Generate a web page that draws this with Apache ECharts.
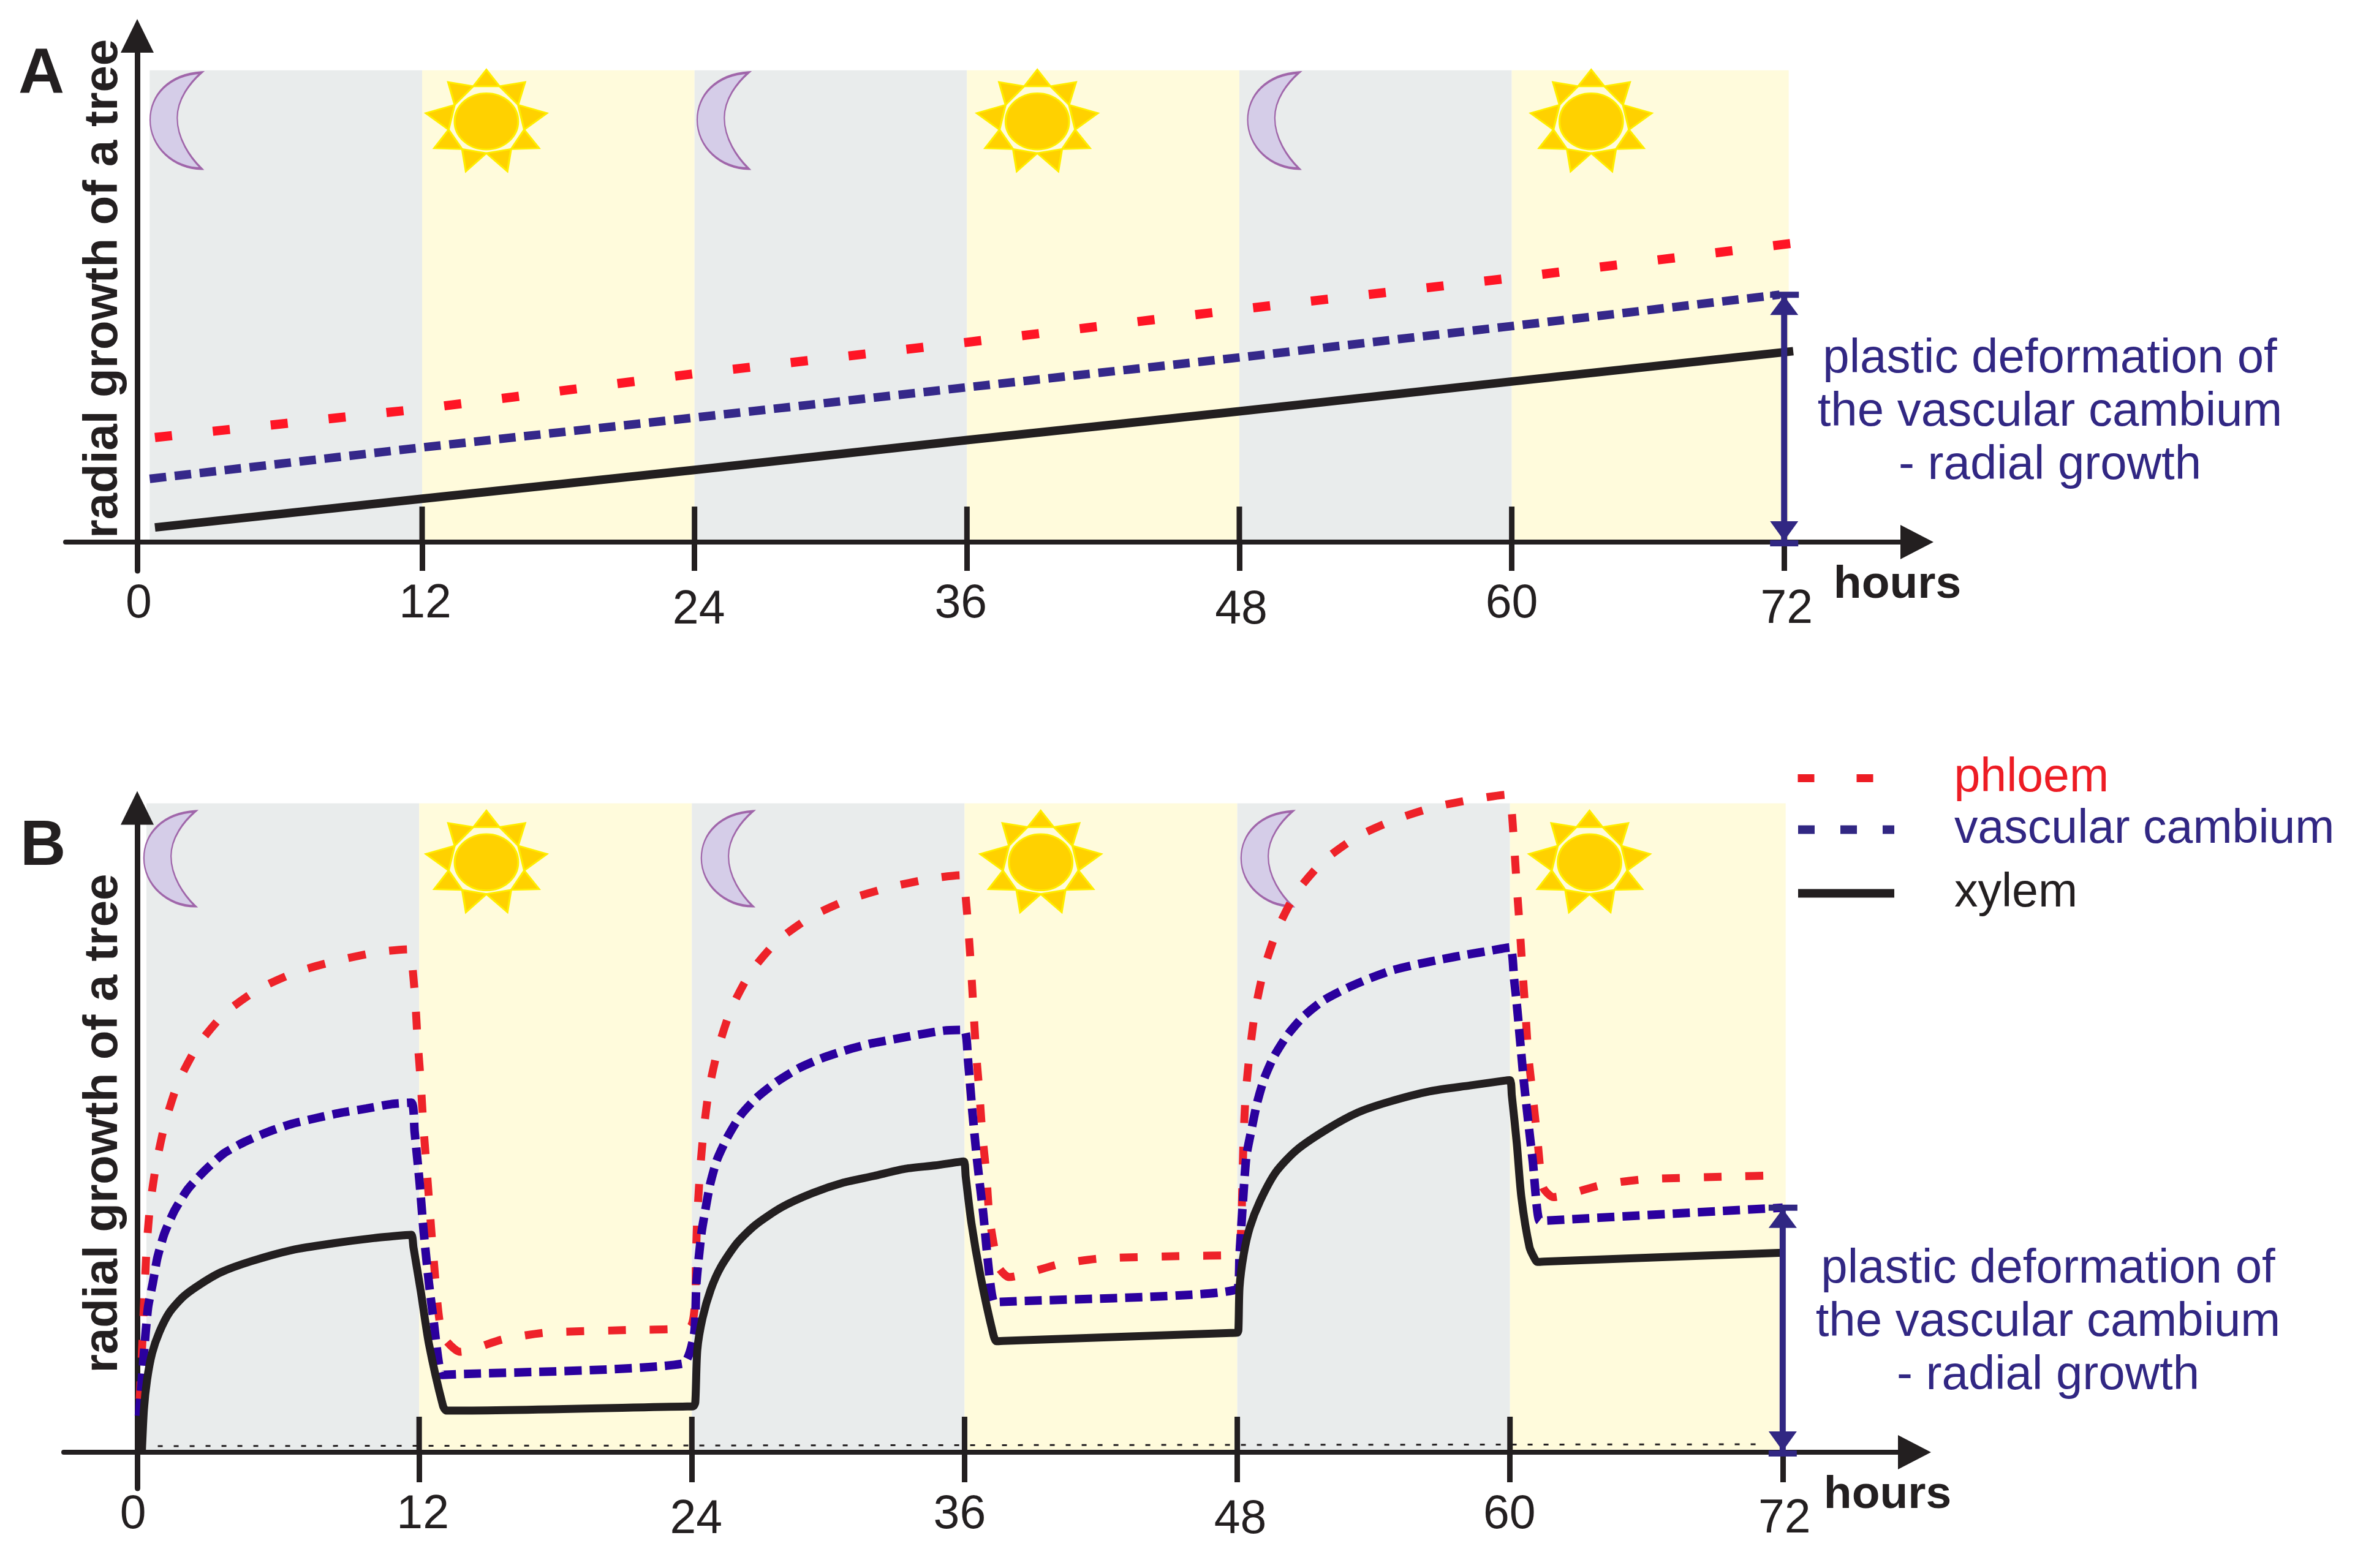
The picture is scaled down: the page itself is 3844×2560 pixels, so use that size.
<!DOCTYPE html>
<html><head><meta charset="utf-8">
<style>html,body{margin:0;padding:0;background:#fff}#c{width:3844px;height:2560px}</style>
<script src="https://cdn.jsdelivr.net/npm/echarts@6/dist/echarts.min.js"></script>
</head><body><div id="c"></div>
<script>
// ---------- data ----------
const tickLabels = ['0','12','24','36','48','60','72'];
const tickHoursA = [-0.54,12,24,36,48,60,72];
const tickHoursB = [-0.40,12,24,36,48,60,72];
const upperTickHours = [12,24,36,48,60];
const bandEdgesA = [0,12,24,36,48,60,72.2];
const bandEdgesB = [0,12,24,36,48,60,72.13];
const moonHoursA = [1.15,25.25,49.5];
const sunHoursA = [14.83,39.1,63.5];
const moonHoursB = [1.02,25.55,49.3];
const sunHoursB = [14.96,39.35,63.5];
const phloemA = [[0.23,20],[12,25.5],[24,32.2],[36,38.2],[48,44.5],[60,50.5],[72.3,57.1]];
const cambiumA = [[0,12.1],[12,18.1],[24,23.8],[36,29.6],[48,35.3],[60,41.3],[71.8,47.3]];
const xylemA = [[0.23,2.8],[12,8.3],[24,13.8],[36,19.5],[48,25],[60,30.7],[72.4,36.5]];
const xylemB = [[-0.2,0],[-0.11,6.5],[0.03,11],[0.25,15],[0.57,18.2],[1.02,21.2],[1.64,23.6],[2.36,25.4],[3.26,27.2],[4.61,28.9],[6.41,30.6],[8.2,31.6],[10,32.4],[11.4,32.85],[11.66,32.9],
  [11.75,31],[12.07,24.4],[12.43,16.4],[13.05,7],[13.2,6.3],[13.5,6.3],[23.8,6.93],[24.06,6.95],[24.15,7.5],[24.24,15.5],[24.47,20.3],[24.83,24.6],[25.27,28],[26,31.7],[26.8,34.4],[27.97,37.1],[29.3,39.2],[30.67,40.8],[32,41.8],[33.4,42.9],[34.7,43.4],[35.7,43.9],[35.97,44],
  [36.05,41.7],[36.3,34.7],[36.7,26.7],[37.25,18],[37.4,16.8],[37.7,16.85],[47.7,18.05],[48,18.1],[48.05,18.5],[48.1,25],[48.28,29.9],[48.55,34],[49,38],[49.7,42.4],[50.6,45.7],[51.96,48.9],[53.3,51.4],[54.65,53],[56.45,54.6],[58.25,55.5],[59.7,56.2],[60,56.3],
  [60.08,54],[60.3,46.7],[60.5,38.6],[60.86,31],[61.1,29.2],[61.2,28.8],[61.5,28.85],[72,30.2]];
const cambiumB = [[-0.33,5.5],[-0.11,15],[0.07,21.9],[0.28,25.6],[0.48,29.4],[0.79,33.1],[1.24,36.6],[1.82,39.8],[2.53,42.5],[3.4,45.2],[4.34,47],[5.37,48.5],[6.41,49.7],[7.52,50.6],[8.6,51.4],[9.68,52],[10.81,52.7],[11.66,52.9],
  [11.8,48.5],[12.02,40.8],[12.2,33.3],[12.43,25.6],[12.6,20.9],[13,11.7],[13.3,11.75],[23.6,13.4],
  [24.1,17.9],[24.2,25.6],[24.42,33.1],[24.6,36.8],[24.8,40.5],[25.1,44.2],[25.57,47.7],[26.15,51],[26.87,53.7],[27.75,56.1],[28.7,58.1],[29.7,59.6],[30.75,60.8],[31.83,61.8],[32.9,62.5],[34,63.2],[35.1,63.8],[35.98,63.9],
  [36.15,59.4],[36.33,52],[36.55,44.2],[36.8,36.8],[37.3,22.7],[37.6,22.75],[48,24.7],
  [48.1,29.9],[48.23,37],[48.4,44.8],[48.63,48.9],[48.86,52.7],[49.17,56.4],[49.6,59.8],[50.2,63.1],[50.9,65.9],[51.76,68.3],[52.74,70.1],[53.75,71.6],[54.8,72.9],[55.87,73.8],[57,74.6],[58.1,75.3],[59.15,75.9],[60,76.4],
  [60.18,71.6],[60.3,67.8],[60.4,64],[60.5,60.2],[60.6,56.4],[60.72,52.6],[60.84,48.9],[61,44.1],[61.3,35],[61.6,35.05],[72,37]];
const phloemB = [[-0.3,8],[-0.24,12],[-0.16,18.2],[-0.08,24.6],[0.01,31.1],[0.16,37.3],[0.43,43.6],[0.82,49.8],[1.39,55.9],[2.25,61.5],[3.44,66.4],[4.94,70.1],[6.63,72.7],[8.4,74.4],[10.2,75.7],[11.57,76.1],
  [11.66,75],[11.82,68.9],[11.93,62.4],[12.07,56],[12.18,49.7],[12.32,43.4],[12.46,37],[12.6,30.8],[13,17.9],[13.8,15.2],[15.7,17.1],[17.6,18.1],[21.3,18.5],[23.9,18.9],
  [24.15,23.1],[24.18,29.5],[24.24,35.7],[24.35,42.1],[24.51,48.4],[24.75,54.8],[25.14,60.9],[25.72,67],[26.58,72.6],[27.77,77.4],[29.28,81.1],[30.95,83.7],[32.72,85.5],[34.53,86.8],[35.83,87.3],
  [35.98,86.2],[36.15,79.9],[36.28,73.5],[36.39,67.1],[36.5,60.8],[36.65,54.5],[36.78,48.2],[36.96,42],[37.1,35.4],[37.5,28],[37.95,26.5],[40.1,28.4],[41.9,29.3],[45.6,29.7],[48,29.9],
  [48.18,35.2],[48.23,41.6],[48.28,47.9],[48.37,54.2],[48.55,60.6],[48.79,66.9],[49.17,73],[49.76,79.1],[50.6,84.7],[51.8,89.5],[53.3,93.2],[55,95.8],[56.76,97.7],[58.57,98.9],[59.9,99.5],
  [60.04,98.3],[60.18,92],[60.3,85.6],[60.43,79.3],[60.55,72.9],[60.68,66.6],[60.8,60.3],[61,54],[61.2,47.6],[61.45,40.1],[61.9,38.6],[64.1,40.5],[65.9,41.3],[69.6,41.7],[71.9,41.9]];
const dottedBaseB = [[0.5,0.93],[71,1.2]];
const bracketTopA = 47.3;
const bracketTopB = 37;
const seriesNames = ['phloem','vascular cambium','xylem'];
const annotation = 'plastic deformation of\nthe vascular cambium\n- radial growth';
const yTitle = 'radial growth of a tree';
const xTitle = 'hours';

// ---------- styles ----------
const INK='#231F20', GREY='#E9ECEC', CREAM='#FFFBDC', NAVY='#312783', FONT='"Liberation Sans",Arial,sans-serif';
const MOON='path://M110,0 C40,5 0,55 0,115 C0,180 50,233 110,233 C85,205 58,160 58,110 C58,65 85,25 110,0 Z';
const SUN='path://M130,5 L158,45 L213,35 L198,90 L260,110 L211,150 L243,195 L183,197 L175,251 L130,207 L86,251 L78,197 L18,195 L49,150 L0,110 L62,90 L48,35 L102,45 Z M158,45 L102,45 L62,90 L49,150 L78,197 L130,207 L183,197 L211,150 L198,90 Z M130,62 A68,68 0 1 1 129.99,62 Z';

function bandSeries(edges,top,xi){
  const d=[]; for(let i=0;i<edges.length-1;i++) d.push([edges[i],edges[i+1],top,i%2]);
  return {type:'custom',xAxisIndex:xi,yAxisIndex:xi,z:1,silent:true,clip:false,data:d,
    renderItem(p,api){
      const a=api.coord([api.value(0),api.value(2)]), b=api.coord([api.value(1),0]);
      return {type:'rect',shape:{x:a[0],y:a[1],width:b[0]-a[0],height:b[1]-a[1]},style:{fill:api.value(3)?CREAM:GREY}};
    }};
}
function upperTicks(xi,len){
  return {type:'custom',xAxisIndex:xi,yAxisIndex:xi,z:5,silent:true,clip:false,data:upperTickHours.map(h=>[h,0]),
    renderItem(p,api){
      const a=api.coord([api.value(0),0]);
      return {type:'line',shape:{x1:a[0],y1:a[1],x2:a[0],y2:a[1]-len},style:{stroke:INK,lineWidth:9}};
    }};
}
function bracket(top,xi){
  return {type:'custom',xAxisIndex:xi,yAxisIndex:xi,z:7,silent:true,clip:false,data:[[72,top]],
    renderItem(p,api){
      const t=api.coord([api.value(0),api.value(1)]), b=api.coord([api.value(0),0]);
      const x=t[0], s={stroke:NAVY,lineWidth:10}, f={fill:NAVY};
      return {type:'group',children:[
        {type:'line',shape:{x1:x,y1:t[1],x2:x,y2:b[1]},style:s},
        {type:'line',shape:{x1:x-23,y1:t[1],x2:x+24,y2:t[1]},style:s},
        {type:'line',shape:{x1:x-23,y1:b[1]+2,x2:x+23,y2:b[1]+2},style:s},
        {type:'polygon',shape:{points:[[x,t[1]+2],[x-23,t[1]+33],[x+23,t[1]+33]]},style:f},
        {type:'polygon',shape:{points:[[x,b[1]-2],[x-23,b[1]-34],[x+23,b[1]-34]]},style:f}
      ]};
    }};
}
function icons(hours,val,symbol,size,fill,border,bw,xi){
  return {type:'scatter',xAxisIndex:xi,yAxisIndex:xi,z:2,silent:true,clip:false,symbol,symbolSize:size,symbolKeepAspect:false,
    data:hours.map(h=>[h,val]),itemStyle:{color:fill,borderColor:border,borderWidth:bw,opacity:1}};
}
function line(name,data,color,width,type,xi,smooth){
  return {type:'line',name,data,xAxisIndex:xi,yAxisIndex:xi,z:4,symbol:'none',showSymbol:false,silent:true,clip:false,smooth:smooth||false,
    lineStyle:{color,width,type,cap:'butt',join:'miter'},itemStyle:{color}};
}
function xAxis(gi,min,max,ticks,nudge,drop,margin,nameGap,namePad,tickLen){
  const rich={};
  ticks.forEach((_,i)=>{const n=nudge[i];rich['t'+i]={fontFamily:FONT,fontSize:77,color:INK,padding:[drop[i],n<0?-2*n:0,0,n>0?2*n:0]};});
  return {type:'value',gridIndex:gi,min,max,z:3,splitLine:{show:false},
    axisLine:{show:true,onZero:true,symbol:['none','triangle'],symbolSize:[56,54],lineStyle:{color:INK,width:8}},
    axisTick:{show:true,customValues:ticks.slice(1),length:tickLen,lineStyle:{color:INK,width:9}},
    axisLabel:{show:true,customValues:ticks,margin,hideOverlap:false,showMinLabel:true,showMaxLabel:true,
      formatter:(v)=>{const i=ticks.indexOf(v);return '{t'+i+'|'+tickLabels[i]+'}';},rich},
    name:xTitle,nameLocation:'end',nameGap,
    nameTextStyle:{fontFamily:FONT,fontWeight:'bold',fontSize:75,color:INK,align:'center',verticalAlign:'top',padding:[namePad,0,0,0]}};
}
function yAxis(gi,min,max,offset,nameGap,shift){
  return {type:'value',gridIndex:gi,min,max,position:'left',offset,z:3,splitLine:{show:false},
    axisLine:{show:true,onZero:false,symbol:['none','triangle'],symbolSize:[54,55],lineStyle:{color:INK,width:9}},
    axisTick:{show:false},axisLabel:{show:false},
    name:yTitle,nameLocation:'middle',nameGap,nameRotate:90,
    nameTextStyle:{fontFamily:FONT,fontWeight:'bold',fontSize:78,color:INK,padding:[0,0,0,shift]}};
}
function legendAt(top,name,color,width,dash){
  return {show:true,left:2928,top,orient:'vertical',itemWidth:157,itemHeight:20,padding:0,
    data:[{name,lineStyle:{color,width,type:dash,cap:'butt',opacity:1},itemStyle:{opacity:0},
      textStyle:{color,fontFamily:FONT,fontSize:77,padding:[0,0,0,93]}}],
    selectedMode:false};
}

const option={
  animation:false,backgroundColor:'#fff',
  title:[
    {text:'A',left:30,top:70,padding:0,textStyle:{fontFamily:FONT,fontWeight:'bold',fontSize:104,color:INK}},
    {text:'B',left:33,top:1332,padding:0,textStyle:{fontFamily:FONT,fontWeight:'bold',fontSize:103,color:INK}}
  ],
  grid:[
    {left:107,width:3022,top:58.5,height:873.5,containLabel:false,outerBoundsMode:'none'},
    {left:104,width:3021,top:1319,height:1111,containLabel:false,outerBoundsMode:'none'}
  ],
  xAxis:[
    xAxis(0,-3.708,77.85,tickHoursA,[2,5,7,-10,3,0,4],[0,0,10,0,10,0,9],16,-32,33,47),
    xAxis(1,-3.64,77.8,tickHoursB,[-7,6,7,-8,5,-1,3],[0,0,8,0,8,0,7],5,-44,33,49)
  ],
  yAxis:[
    yAxis(0,-5.5,96.8,-117,16,48),
    yAxis(1,-5.47,97.5,-120,16,81)
  ],
  legend:[
    legendAt(1232,seriesNames[0],'#ED1C24',13,[27,69]),
    legendAt(1316,seriesNames[1],NAVY,14,[27,42]),
    legendAt(1420,seriesNames[2],INK,14,'solid')
  ],
  graphic:[
    {type:'text',z:10,silent:true,style:{text:annotation,x:3346,y:543,align:'center',verticalAlign:'top',fontFamily:FONT,fontSize:78,lineHeight:87,fill:NAVY}},
    {type:'text',z:10,silent:true,style:{text:annotation,x:3343,y:2029,align:'center',verticalAlign:'top',fontFamily:FONT,fontSize:78,lineHeight:87,fill:NAVY}}
  ],
  series:[
    bandSeries(bandEdgesA,90.2,0),
    icons(moonHoursA,80.6,MOON,[84,157],'#D5CDE8','#A066AA',3,0),
    icons(sunHoursA,80.6,SUN,[198,166],'#FFD100','#FFED00',3,0),
    upperTicks(0,58),
    line(seriesNames[0],phloemA,'#FF1525',15,[28,67],0),
    line(seriesNames[1],cambiumA,'#35288A',14,[27,14],0),
    line(seriesNames[2],xylemA,INK,14,'solid',0),
    bracket(bracketTopA,0),

    bandSeries(bandEdgesB,98.2,1),
    icons(moonHoursB,89.8,MOON,[84,155],'#D5CDE8','#A066AA',3,1),
    icons(sunHoursB,89.4,SUN,[198,166],'#FFD100','#FFED00',3,1),
    upperTicks(1,58),
    {type:'line',data:dottedBaseB,xAxisIndex:1,yAxisIndex:1,z:4,symbol:'none',silent:true,clip:false,lineStyle:{color:INK,width:3,type:[8,18]}},
    line(seriesNames[0],phloemB,'#EE2229',13,[29,39],1,0.2),
    line(seriesNames[1],cambiumB,'#2B009E',14,[28,13],1,0.2),
    line(seriesNames[2],xylemB,INK,13,'solid',1,0.25),
    bracket(bracketTopB,1)
  ]
};
const chart=echarts.init(document.getElementById('c'),null,{renderer:'canvas',width:3844,height:2560});
chart.setOption(option);
</script></body></html>
